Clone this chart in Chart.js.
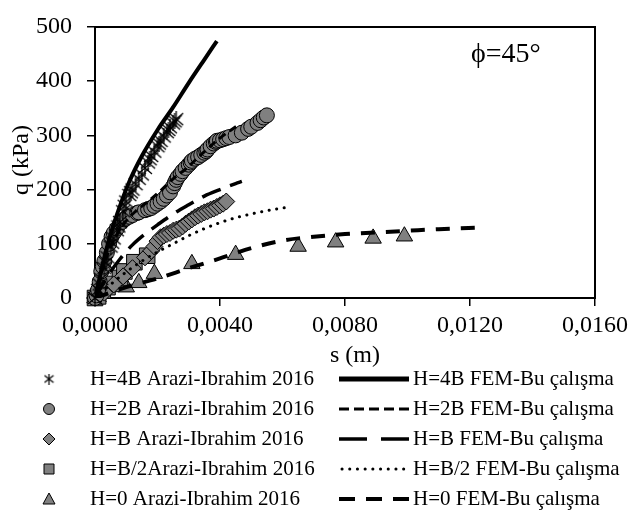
<!DOCTYPE html>
<html>
<head>
<meta charset="utf-8">
<script src="https://cdn.jsdelivr.net/npm/chart.js@4/dist/chart.umd.min.js"></script>
<style>
  html, body { margin: 0; padding: 0; background: #fff; }
  #chart { display: block; }
</style>
</head>
<body>
<canvas id="chart" width="636" height="516"></canvas>
<script>
// q-s curves, phi = 45 deg
const xTicks = [0, 0.004, 0.008, 0.012, 0.016];
const yTicks = [0, 100, 200, 300, 400, 500];

// field data (Arazi-Ibrahim 2016)
const s4B = [0, 0.0001, 0.00015, 0.0002, 0.0003, 0.00035, 0.0004, 0.0005, 0.00055, 0.0006, 0.0007, 0.00075, 0.0008, 0.0009, 0.00095, 0.0010, 0.0011, 0.00115, 0.0012, 0.0013, 0.0014, 0.0015, 0.0016, 0.0017, 0.00175, 0.0018, 0.0019, 0.0020, 0.00205, 0.0021, 0.0022, 0.0023, 0.00235, 0.0024, 0.0025, 0.00255, 0.0026];
const q4B = [0, 15, 25, 35, 55, 65, 75, 95, 102, 110, 125, 132, 140, 160, 170, 178, 190, 195, 200, 210, 220, 228, 240, 250, 256, 262, 270, 280, 285, 290, 298, 306, 310, 315, 322, 326, 330];

const s2B = [0, 0.00005, 0.0001, 0.00015, 0.0002, 0.00025, 0.0003, 0.00038, 0.00045, 0.00053, 0.0006, 0.0007, 0.00085, 0.00095, 0.001, 0.0011, 0.0012, 0.00135, 0.0014, 0.0016, 0.0017, 0.0018, 0.0019, 0.002, 0.0021, 0.0022, 0.0023, 0.0024, 0.0025, 0.00255, 0.0026, 0.00265, 0.00274, 0.0028, 0.0029, 0.003, 0.00306, 0.0031, 0.0032, 0.0033, 0.0034, 0.0035, 0.00356, 0.0036, 0.0037, 0.0038, 0.00387, 0.0039, 0.004, 0.0041, 0.0042, 0.0043, 0.0045, 0.0047, 0.0049, 0.005, 0.0052, 0.0053, 0.0054, 0.0055];
const q2B = [0, 5, 15, 30, 49, 58, 68, 84, 100, 113, 120, 128, 140, 145, 148, 150, 153, 157, 158, 162, 164, 166, 170, 174, 178, 183, 189, 195, 206, 212, 218, 223, 229, 234, 240, 246, 250, 253, 257, 260, 264, 268, 271, 274, 280, 285, 288, 290, 291, 293, 295, 297, 300, 305, 312, 316, 323, 328, 333, 337];

const sB = [0, 0.0003, 0.0006, 0.0009, 0.0012, 0.0016, 0.0018, 0.0019, 0.0020, 0.0021, 0.0022, 0.0023, 0.0024, 0.0025, 0.0026, 0.0027, 0.0028, 0.0029, 0.003, 0.0031, 0.0032, 0.0033, 0.0034, 0.0035, 0.0036, 0.0037, 0.0038, 0.0039, 0.004, 0.0041, 0.0042];
const qB = [0, 10, 25, 40, 55, 75, 87, 95, 105, 112, 115, 118, 120, 124, 126, 128, 132, 137, 141, 145, 149, 152, 155, 158, 160, 163, 165, 168, 171, 174, 178];

const sB2 = [0, 0.0001, 0.00025, 0.0004, 0.00053, 0.0008, 0.00094, 0.00126, 0.00167];
const qB2 = [0, 3, 14, 20, 26, 37, 49, 66, 78];

const s0 = [0, 0.0001, 0.001, 0.0014, 0.0019, 0.0031, 0.0045, 0.0065, 0.0077, 0.0089, 0.0099];
const q0 = [0, 2, 20, 28, 45, 63, 80, 95, 103, 110, 114];

// FEM results (Bu çalışma)
const fem4Bs = [0, 0.0001, 0.0003, 0.0005, 0.0008, 0.0011, 0.0015, 0.002, 0.0025, 0.003, 0.0035, 0.0039];
const fem4Bq = [0, 25, 75, 118, 170, 215, 262, 310, 352, 397, 440, 474];

const fem2Bs = [0, 0.0002, 0.0005, 0.0009, 0.0013, 0.0017, 0.0021, 0.0025, 0.0029, 0.0035, 0.004, 0.0046];
const fem2Bq = [0, 45, 95, 135, 160, 178, 198, 220, 238, 270, 295, 320];

const femBs = [0, 0.0004, 0.0008, 0.0012, 0.0016, 0.002, 0.0025, 0.003, 0.0035, 0.004, 0.0045, 0.0047];
const femBq = [0, 40, 72, 98, 118, 135, 155, 172, 188, 200, 211, 215];

const femB2s = [0, 0.0005, 0.001, 0.0015, 0.002, 0.0025, 0.003, 0.0035, 0.004, 0.0045, 0.005, 0.0055, 0.006, 0.0062];
const femB2q = [0, 25, 48, 68, 85, 100, 115, 128, 139, 148, 155, 161, 166, 167];

const fem0s = [0, 0.001, 0.002, 0.003, 0.004, 0.005, 0.006, 0.007, 0.008, 0.009, 0.010, 0.011, 0.0124];
const fem0q = [0, 20, 36, 55, 73, 92, 106, 113, 118, 121, 124, 127, 130];

const fieldLabels = ['H=4B Arazi-Ibrahim 2016', 'H=2B Arazi-Ibrahim 2016', 'H=B Arazi-Ibrahim 2016', 'H=B/2Arazi-Ibrahim 2016', 'H=0 Arazi-Ibrahim 2016'];
const femLabels = ['H=4B FEM-Bu çalışma', 'H=2B FEM-Bu çalışma', 'H=B FEM-Bu çalışma', 'H=B/2 FEM-Bu çalışma', 'H=0 FEM-Bu çalışma'];

const FONT = '"Liberation Serif", "Times New Roman", serif';
const GRAY = '#808080';

const toPts = (xs, ys) => xs.map((x, i) => ({ x: x, y: ys[i] }));

// asterisk marker (vertical bar + X)
function makeStar(size, lw) {
    const c = document.createElement('canvas');
    c.width = size;
    c.height = size;
    const g = c.getContext('2d');
    const m = size / 2;
    g.strokeStyle = '#000';
    g.lineWidth = lw;
    g.beginPath();
    g.moveTo(m, 0); g.lineTo(m, size);
    g.moveTo(1, 2); g.lineTo(size - 1, size - 2);
    g.moveTo(1, size - 2); g.lineTo(size - 1, 2);
    g.stroke();
    return c;
}

const star = makeStar(16, 1.3);
const starSmall = makeStar(11, 1.2);

const markerStyles = [
    { style: star, r: 8 },
    { style: 'circle', r: 7.5 },
    { style: 'rectRot', r: 8.5 },
    { style: 'rect', r: 11 },
    { style: 'triangle', r: 9.5 }
];
// dash patterns: plot / legend sample
const lineStyles = [
    { width: 4, dash: [], legendDash: [], cap: 'butt' },
    { width: 3, dash: [8, 5], legendDash: [10, 5], cap: 'butt' },
    { width: 3.5, dash: [20, 10], legendDash: [28, 14], cap: 'butt' },
    { width: 3, dash: [0.1, 7.5], legendDash: [0.1, 7.6], cap: 'round' },
    { width: 4, dash: [14, 11], legendDash: [16, 11], cap: 'butt' }
];

const fieldData = [toPts(s4B, q4B), toPts(s2B, q2B), toPts(sB, qB), toPts(sB2, qB2), toPts(s0, q0)];
const femData = [toPts(fem4Bs, fem4Bq), toPts(fem2Bs, fem2Bq), toPts(femBs, femBq), toPts(femB2s, femB2q), toPts(fem0s, fem0q)];

const datasets = [];
fieldData.forEach((d, i) => {
    datasets.push({
        label: fieldLabels[i],
        data: d,
        showLine: false,
        pointStyle: markerStyles[i].style,
        pointRadius: markerStyles[i].r,
        pointBackgroundColor: GRAY,
        pointBorderColor: '#000',
        pointBorderWidth: 1,
        clip: false,
        order: 1
    });
});
femData.forEach((d, i) => {
    datasets.push({
        label: femLabels[i],
        data: d,
        showLine: true,
        pointRadius: 0,
        borderColor: '#000',
        borderWidth: lineStyles[i].width,
        borderDash: lineStyles[i].dash,
        borderCapStyle: lineStyles[i].cap,
        cubicInterpolationMode: 'monotone',
        order: 0
    });
});

// plot frame, axis titles, phi label and the two-column legend
const decorations = {
    id: 'decorations',
    beforeDatasetsDraw(chart) {
        const { ctx, chartArea: a } = chart;
        ctx.save();
        ctx.strokeStyle = '#000';
        ctx.lineWidth = 2;
        ctx.strokeRect(a.left, a.top, a.right - a.left, a.bottom - a.top);
        ctx.restore();
    },
    afterDraw(chart) {
        const ctx = chart.ctx;
        ctx.save();
        ctx.fillStyle = '#000';
        ctx.textBaseline = 'middle';

        ctx.font = '24px ' + FONT;
        ctx.textAlign = 'center';
        ctx.fillText('s (m)', 355, 356);
        ctx.save();
        ctx.translate(22, 160);
        ctx.rotate(-Math.PI / 2);
        ctx.fillText('q (kPa)', 0, 0);
        ctx.restore();

        ctx.font = '28px ' + FONT;
        ctx.textAlign = 'left';
        ctx.textBaseline = 'alphabetic';
        ctx.fillText('ϕ=45°', 471, 62);

        ctx.font = '21px ' + FONT;
        ctx.textBaseline = 'middle';
        for (let i = 0; i < 5; i++) {
            const y = 379 + 30 * i;
            drawLegendMarker(ctx, i, 49, y);
            ctx.fillStyle = '#000';
            ctx.fillText(fieldLabels[i], 90, y);

            const ls = lineStyles[i];
            ctx.save();
            ctx.strokeStyle = '#000';
            ctx.lineWidth = ls.width + (i === 0 ? 1 : 0);
            ctx.lineCap = ls.cap;
            ctx.setLineDash(ls.legendDash);
            ctx.beginPath();
            ctx.moveTo(i === 3 ? 342 : 339, y);
            ctx.lineTo(409, y);
            ctx.stroke();
            ctx.restore();
            ctx.fillText(femLabels[i], 413, y);
        }
        ctx.restore();
    }
};

function drawLegendMarker(ctx, i, x, y) {
    ctx.save();
    ctx.fillStyle = GRAY;
    ctx.strokeStyle = '#000';
    ctx.lineWidth = 1;
    ctx.beginPath();
    if (i === 0) {
        ctx.drawImage(starSmall, x - 5.5, y - 5.5);
        ctx.restore();
        return;
    } else if (i === 1) {
        ctx.arc(x, y, 5.5, 0, Math.PI * 2);
    } else if (i === 2) {
        ctx.moveTo(x, y - 6); ctx.lineTo(x + 6, y); ctx.lineTo(x, y + 6); ctx.lineTo(x - 6, y);
        ctx.closePath();
    } else if (i === 3) {
        ctx.rect(x - 5, y - 5, 10, 10);
    } else {
        ctx.moveTo(x, y - 6); ctx.lineTo(x + 6, y + 5); ctx.lineTo(x - 6, y + 5);
        ctx.closePath();
    }
    ctx.fill();
    ctx.stroke();
    ctx.restore();
}

Chart.defaults.font.family = FONT;
Chart.defaults.color = '#000';

new Chart(document.getElementById('chart'), {
    type: 'scatter',
    data: { datasets: datasets },
    options: {
        responsive: false,
        animation: false,
        devicePixelRatio: 1,
        layout: { padding: { top: 12, right: 33, left: 0, bottom: 0 } },
        plugins: {
            legend: { display: false },
            tooltip: { enabled: false }
        },
        scales: {
            x: {
                type: 'linear',
                min: xTicks[0],
                max: xTicks[xTicks.length - 1],
                afterBuildTicks: s => { s.ticks = xTicks.map(v => ({ value: v })); },
                afterFit: s => { s.height = 218; },
                ticks: {
                    color: '#000',
                    font: { size: 24, lineHeight: 1 },
                    padding: 8,
                    maxRotation: 0,
                    autoSkip: false,
                    callback: v => v.toFixed(4).replace('.', ',')
                },
                grid: { drawOnChartArea: false, tickLength: 8, color: '#000', lineWidth: 1.5 },
                border: { color: '#000', width: 2 }
            },
            y: {
                min: yTicks[0],
                max: yTicks[yTicks.length - 1],
                afterBuildTicks: s => { s.ticks = yTicks.map(v => ({ value: v })); },
                afterFit: s => { s.width = 95; },
                ticks: {
                    color: '#000',
                    font: { size: 24, lineHeight: 1 },
                    padding: 15,
                    autoSkip: false,
                    callback: v => String(v)
                },
                grid: { drawOnChartArea: false, tickLength: 8, color: '#000', lineWidth: 1.5 },
                border: { color: '#000', width: 2 }
            }
        }
    },
    plugins: [decorations]
});
</script>
</body>
</html>
